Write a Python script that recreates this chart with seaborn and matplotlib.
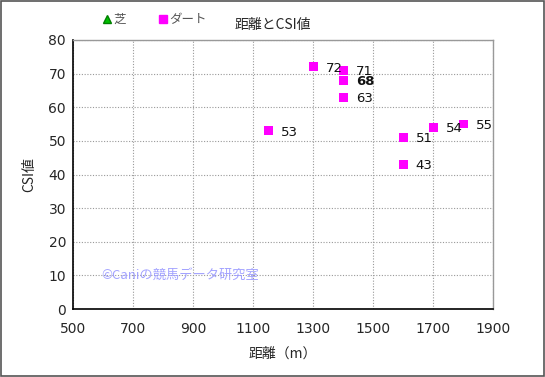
import matplotlib
matplotlib.use("Agg")
import matplotlib.pyplot as plt
from matplotlib.lines import Line2D
import seaborn as sns
import pandas as pd

distance = [1150, 1300, 1400, 1400, 1400, 1400, 1600, 1600, 1700, 1800]
csi = [53, 72, 71, 68, 68, 63, 51, 43, 54, 55]
surface = ["ダート"] * len(distance)
x_ticks = [500, 700, 900, 1100, 1300, 1500, 1700, 1900]
y_ticks = [0, 10, 20, 30, 40, 50, 60, 70, 80]

sns.set_theme(style="white")
plt.rcParams['font.family'] = ['Noto Sans CJK JP', 'DejaVu Sans']

df = pd.DataFrame({"距離": distance, "CSI値": csi, "種別": surface})

fig = plt.figure(figsize=(5.45, 3.77), dpi=100)
ax = fig.add_axes([0.134, 0.180, 0.771, 0.714])

sns.scatterplot(data=df, x="距離", y="CSI値", ax=ax, marker="s", s=40,
                color="#ff00ff", edgecolor="none", legend=False, zorder=3)

counts = df.groupby(["距離", "CSI値"]).size()
for (xv, yv), n in counts.items():
    ax.annotate(str(yv), (xv, yv), xytext=(9, -1), textcoords="offset points",
                fontsize=9.5, color="#111111", family=['DejaVu Sans'], va="center",
                fontweight="bold" if n > 1 else "normal")

ax.set_xlim(500, 1900)
ax.set_ylim(0, 80)
ax.set_xticks(x_ticks)
ax.set_yticks(y_ticks)
ax.tick_params(axis='x', labelsize=10, length=0, pad=9)
ax.tick_params(axis='y', labelsize=10, length=0, pad=5)
for lab in ax.get_xticklabels() + ax.get_yticklabels():
    lab.set_family(['DejaVu Sans'])
ax.grid(True, color="#999999", linestyle=(0, (1, 1.5)), linewidth=0.8)
ax.set_axisbelow(True)
for side in ["left", "bottom"]:
    ax.spines[side].set_color("black")
    ax.spines[side].set_linewidth(1.2)
for side in ["top", "right"]:
    ax.spines[side].set_color("#999999")
    ax.spines[side].set_linewidth(1.0)

ax.set_xlabel("距離（m）", fontsize=10, labelpad=8)
ax.set_ylabel("CSI値", fontsize=10, labelpad=9)

ax.text(595, 10, "©Caniの競馬データ研究室", fontsize=9.5, color="#9999ff", va="center", ha="left", alpha=0.9)

fig.text(0.50, 0.935, "距離とCSI値", fontsize=10, ha="center", va="center")

handles = [Line2D([], [], marker="^", color="#00c000", linestyle="none", markersize=6, markeredgecolor="#008000"),
           Line2D([], [], marker="s", color="#ff00ff", linestyle="none", markersize=6)]
fig.legend(handles, ["芝", "ダート"], loc="center", bbox_to_anchor=(0.283, 0.948), ncol=2,
           frameon=False, fontsize=9, handletextpad=0.1, columnspacing=2.6, handlelength=0.8,
           labelcolor="#555555")

fig.patches.append(plt.Rectangle((0.002, 0.003), 0.996, 0.994, transform=fig.transFigure,
                                 fill=False, edgecolor="#555555", linewidth=1.2))

fig.savefig("out.png", dpi=100)
